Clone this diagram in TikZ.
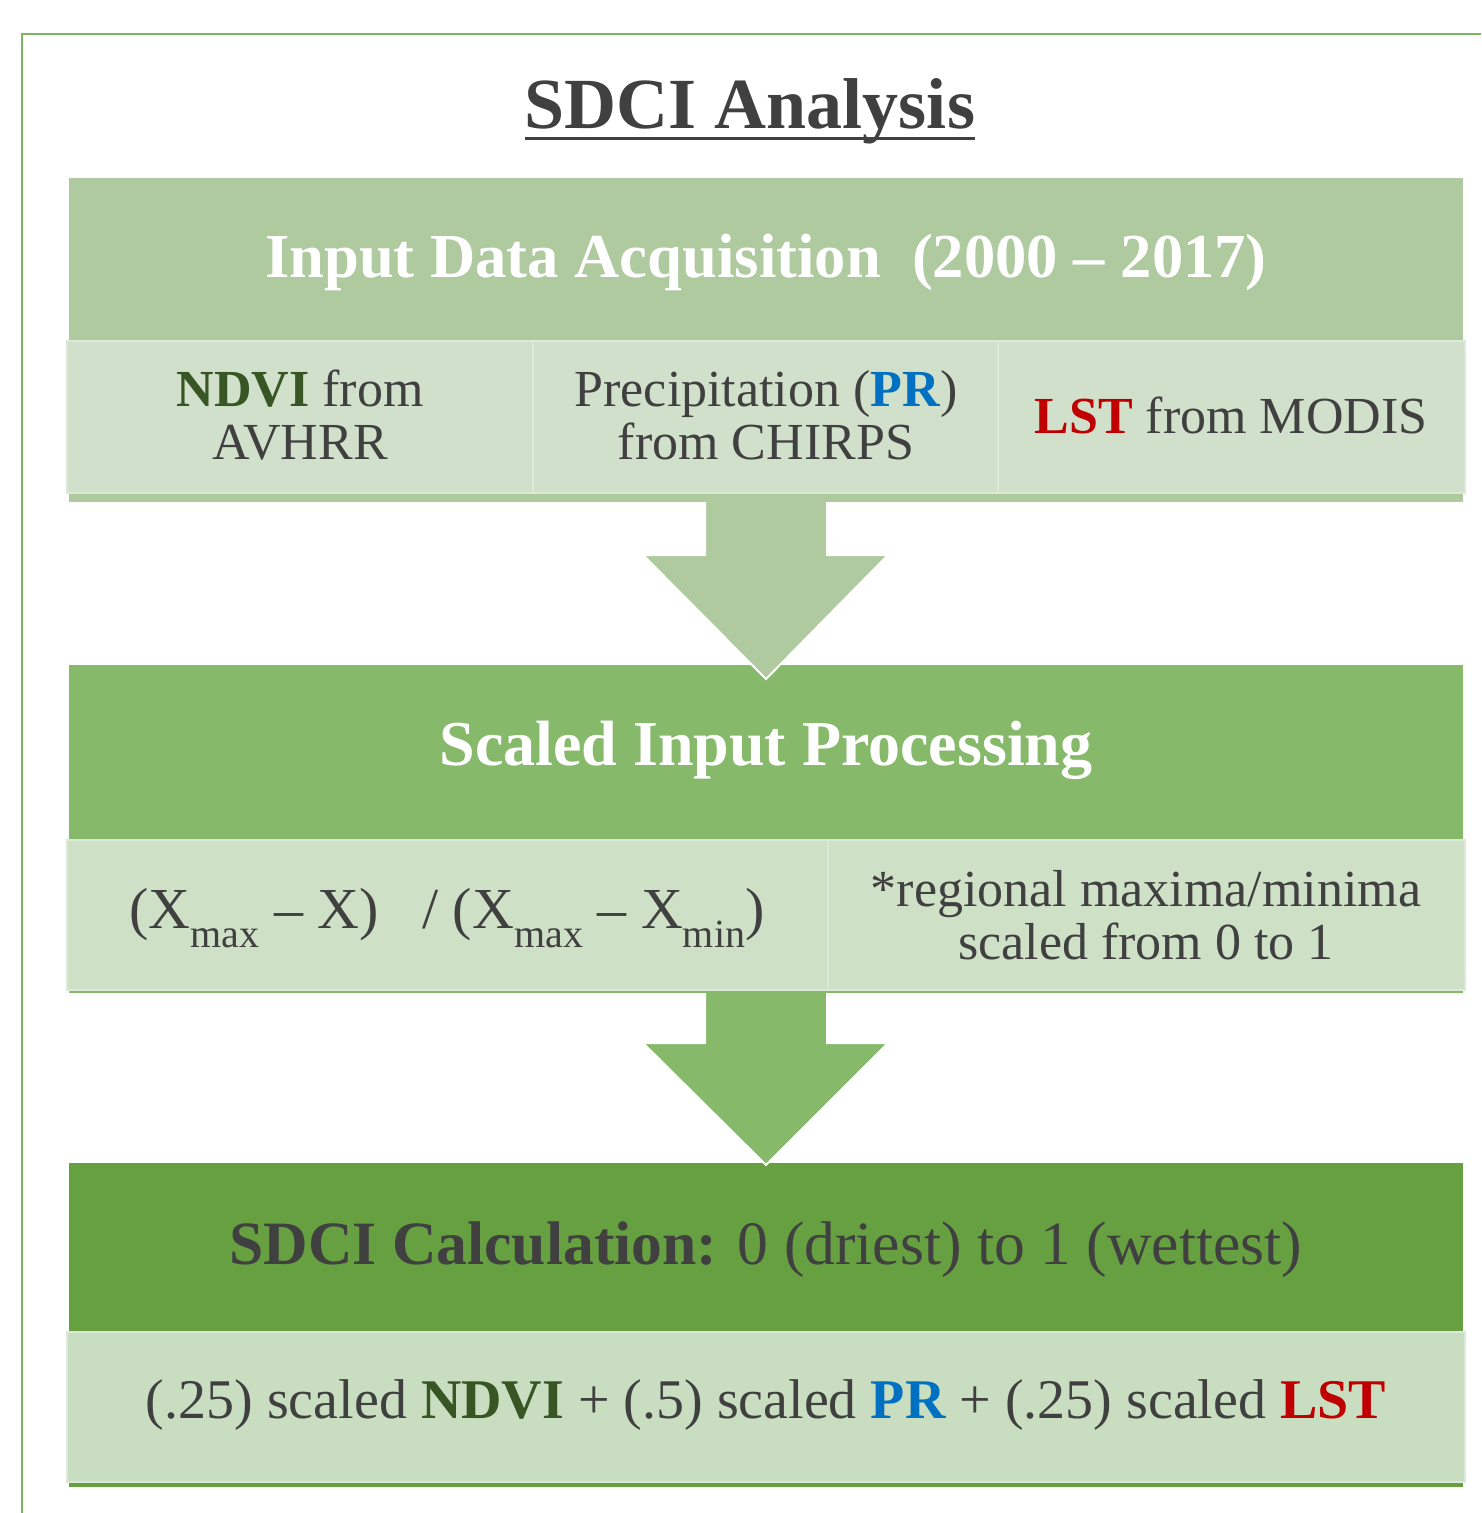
\documentclass[tikz,border=0pt]{standalone}
\usepackage{fontspec}
\setmainfont{Liberation Serif}
\usetikzlibrary{calc}

\definecolor{frameGreen}{HTML}{7EB563}
\definecolor{headA}{HTML}{AECA9E}
\definecolor{headB}{HTML}{87B96B}
\definecolor{headC}{HTML}{66A040}
\definecolor{cellA}{HTML}{D1E0CA}
\definecolor{cellB}{HTML}{CEE0C6}
\definecolor{cellC}{HTML}{C9DDC0}
\definecolor{cellEdge}{HTML}{DDE9D8}
\definecolor{txt}{HTML}{404040}
\definecolor{ndviGreen}{HTML}{375623}
\definecolor{prBlue}{HTML}{0070C0}
\definecolor{lstRed}{HTML}{C00000}

\newcommand{\ndvi}{\textbf{\color{ndviGreen}NDVI}}
\newcommand{\pr}{\textbf{\color{prBlue}PR}}
\newcommand{\lst}{\textbf{\color{lstRed}LST}}
\newcommand{\lowsub}[1]{\raisebox{-0.32em}{\fontsize{20}{20}\selectfont #1}}

\tikzset{
  title/.style={font=\fontsize{36}{38}\selectfont\bfseries, text=txt, inner sep=0pt},
  head/.style={font=\fontsize{31.3}{33}\selectfont\bfseries, text=white},
  calchead/.style={font=\fontsize{30.8}{33}\selectfont, text=txt},
  celltext/.style={font=\fontsize{26}{26.5}\selectfont, text=txt, align=center},
  bigcelltext/.style={font=\fontsize{28}{29}\selectfont, text=txt},
  cell/.style={draw=cellEdge, line width=1pt},
  arrowedge/.style={draw=white, line width=1pt},
}

\begin{document}
\begin{tikzpicture}[x=0.5pt,y=-0.5pt]
\useasboundingbox (0,0) rectangle (1481,1513);

% frame
\draw[frameGreen, line width=1.2pt] (22,1513) -- (22,34) -- (1481,34);

% title
\node[title, anchor=base] (title) at (750,129) {SDCI Analysis};
\draw[txt, line width=1.5pt] ([yshift=-5pt]title.base west) -- ([yshift=-5pt]title.base east);

% box 1
\fill[headA] (69,178) rectangle (1463,502);
\foreach \xa/\xb in {67/533, 533/998, 998/1465}{
  \filldraw[fill=cellA, cell] (\xa,341) rectangle (\xb,493);
}
\node[head] (acq) at (766,262) {Input Data Acquisition\ \ (2000 -- 2017)};
\node[celltext] (ndvi) at (300,415) {\ndvi{} from\\AVHRR};
\node[celltext] (precip) at (766,415) {Precipitation (\pr)\\from CHIRPS};
\node[celltext] (lst) at (1231,415) {\lst{} from MODIS};

% box 2
\fill[headB] (69,665) rectangle (1463,993);
\foreach \xa/\xb in {67/828, 828/1465}{
  \filldraw[fill=cellB, cell] (\xa,840) rectangle (\xb,990);
}
\node[head, font=\fontsize{32}{34}\selectfont\bfseries] (scaled) at (766,750) {Scaled Input Processing};
\node[celltext, font=\fontsize{29}{30}\selectfont] (formula) at (447,918) {(X\lowsub{max} -- X)\ \ \ /\ (X\lowsub{max} -- X\lowsub{min})};
\node[celltext] (note) at (1146,915) {*regional maxima/minima\\scaled from 0 to 1};

% box 3
\fill[headC] (69,1163) rectangle (1463,1487);
\filldraw[fill=cellC, cell] (67,1332) rectangle (1465,1482);
\node[calchead] (calc) at (766,1250) {\textbf{SDCI Calculation:} 0 (driest) to 1 (wettest)};
\node[bigcelltext] (weights) at (766,1405) {(.25) scaled \ndvi{} + (.5) scaled \pr{} + (.25) scaled \lst};

% block arrows
\coordinate (acqOut) at (766,502);
\coordinate (scaledIn) at (766,679);
\coordinate (scaledOut) at (766,993);
\coordinate (calcIn) at (766,1165);

\fill[headA] (acqOut) ++(-61,0) -- ++(0,53) -- ++(-62,0) -- (scaledIn) -- ++(122,-124) -- ++(-61,0) -- ++(0,-53) -- cycle;
\draw[arrowedge] (acqOut) ++(-61,0) -- ++(0,53) -- ++(-62,0) -- (scaledIn) -- ++(122,-124) -- ++(-61,0) -- ++(0,-53);

\fill[headB] (scaledOut) ++(-61,0) -- ++(0,50) -- ++(-62,0) -- (calcIn) -- ++(122,-122) -- ++(-61,0) -- ++(0,-50) -- cycle;
\draw[arrowedge] (scaledOut) ++(-61,0) -- ++(0,50) -- ++(-62,0) -- (calcIn) -- ++(122,-122) -- ++(-61,0) -- ++(0,-50);

\end{tikzpicture}
\end{document}
